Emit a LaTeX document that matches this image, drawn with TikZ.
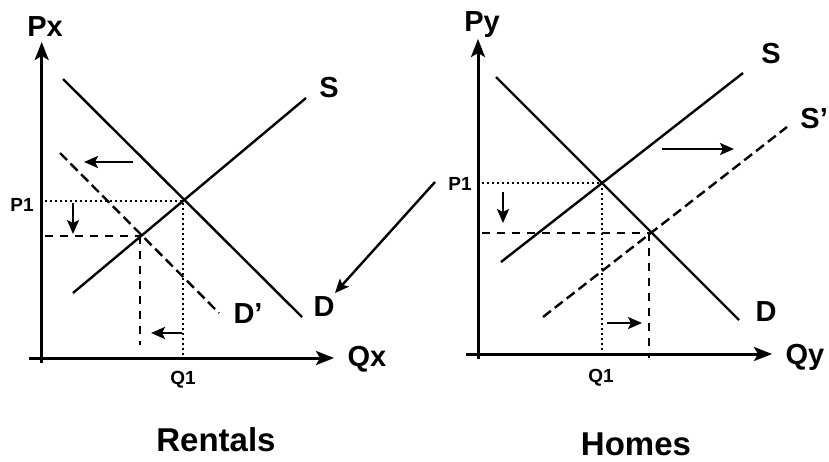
\documentclass[tikz,border=0pt]{standalone}
\usepackage{fontspec}
\setmainfont{Liberation Sans}
\usetikzlibrary{arrows.meta}

\begin{document}
\begin{tikzpicture}[
  x=1pt,y=-1pt,
  every node/.style={font=\bfseries,inner sep=0pt},
  biglbl/.style={font=\fontsize{29}{30}\selectfont\bfseries},
  ticklbl/.style={font=\fontsize{19}{20}\selectfont\bfseries},
  titlelbl/.style={font=\fontsize{33}{35}\selectfont\bfseries},
  axis/.style={line width=3pt,-{Stealth[length=18pt,width=14pt,inset=4pt]}},
  curve/.style={line width=2.4pt},
  shifted/.style={line width=2.4pt,dash pattern=on 10pt off 5pt},
  oldguide/.style={line width=2.4pt,dash pattern=on 2.4pt off 2.6pt},
  newguide/.style={line width=2.4pt,dash pattern=on 8pt off 7pt},
  move/.style={line width=2.4pt,-{Stealth[length=14pt,width=12pt,inset=3pt]}},
]
  \useasboundingbox (0,0) rectangle (829,461);

  % Rentals market (left)
  \coordinate (xo) at (41.7,363);
  \coordinate (xtop) at (41.7,42);
  \coordinate (xl) at (29,358);
  \coordinate (xr) at (334,358);
  \draw[axis] (xo) -- (xtop);
  \draw[axis] (xl) -- (xr);
  \node[biglbl] (px) at (45,27) {Px};
  \node[biglbl] (qx) at (367,359) {Qx};

  \coordinate (dxa) at (63,79);
  \coordinate (dxb) at (302,317);
  \coordinate (sxa) at (73,293);
  \coordinate (sxb) at (306,98);
  \coordinate (dxna) at (60,153);
  \coordinate (dxnb) at (219,313);
  \draw[curve] (dxa) -- (dxb);
  \draw[curve] (sxa) -- (sxb);
  \draw[shifted] (dxna) -- (dxnb);
  \node[biglbl] (sxl) at (329,88) {S};
  \node[biglbl] (dxl) at (324,307) {D};
  \node[biglbl] (dxnl) at (248,314) {D’};

  % old and new equilibrium
  \coordinate (ex) at (183,201);
  \coordinate (enx) at (141,236);
  \coordinate (exp) at (45,201);
  \coordinate (exq) at (183,358);
  \coordinate (enxp) at (45,236);
  \coordinate (enxq) at (140,345);
  \draw[oldguide] (exp) -- (ex) -- (exq);
  \draw[newguide] (enxp) -- (enx);
  \draw[newguide] (140,236) -- (enxq);
  \node[ticklbl] (p1x) at (22,205) {P1};
  \node[ticklbl] (q1x) at (183,380) {Q1};

  % shift arrows
  \coordinate (mxa) at (133,162);
  \coordinate (mxb) at (84,162);
  \coordinate (mxc) at (73,203);
  \coordinate (mxd) at (73,234);
  \coordinate (mxe) at (182,333);
  \coordinate (mxf) at (151,333);
  \draw[move] (mxa) -- (mxb);
  \draw[move] (mxc) -- (mxd);
  \draw[move] (mxe) -- (mxf);
  \node[titlelbl] (rent) at (216,440) {Rentals};

  % link between markets
  \coordinate (lka) at (435,182);
  \coordinate (lkb) at (335,293);
  \draw[move] (lka) -- (lkb);

  % Homes market (right)
  \coordinate (yo) at (478,359);
  \coordinate (ytop) at (478,39);
  \coordinate (yl) at (466,354);
  \coordinate (yr) at (772,354);
  \draw[axis] (yo) -- (ytop);
  \draw[axis] (yl) -- (yr);
  \node[biglbl] (py) at (482,25) {Py};
  \node[biglbl] (qy) at (805,357) {Qy};

  \coordinate (dya) at (496,77);
  \coordinate (dyb) at (739,320);
  \coordinate (sya) at (501,262);
  \coordinate (syb) at (743,73);
  \coordinate (syna) at (543,317);
  \coordinate (synb) at (787,127);
  \draw[curve] (dya) -- (dyb);
  \draw[curve] (sya) -- (syb);
  \draw[shifted] (syna) -- (synb);
  \node[biglbl] (syl) at (771,54) {S};
  \node[biglbl] (dyl) at (766,312) {D};
  \node[biglbl,anchor=east] (synl) at (828,119) {S’};

  \coordinate (ey) at (602,183);
  \coordinate (eny) at (650,233);
  \coordinate (eyp) at (482,183);
  \coordinate (eyq) at (602,354);
  \coordinate (enyp) at (482,233);
  \coordinate (enyq) at (649,358);
  \draw[oldguide] (eyp) -- (ey) -- (eyq);
  \draw[newguide] (enyp) -- (eny);
  \draw[newguide] (649,233) -- (enyq);
  \node[ticklbl] (p1y) at (460,184) {P1};
  \node[ticklbl] (q1y) at (601,378) {Q1};

  \coordinate (mya) at (662,149);
  \coordinate (myb) at (734,149);
  \coordinate (myc) at (503,192);
  \coordinate (myd) at (503,223);
  \coordinate (mye) at (607,323);
  \coordinate (myf) at (642,323);
  \draw[move] (mya) -- (myb);
  \draw[move] (myc) -- (myd);
  \draw[move] (mye) -- (myf);
  \node[titlelbl] (home) at (636,444) {Homes};
\end{tikzpicture}
\end{document}
